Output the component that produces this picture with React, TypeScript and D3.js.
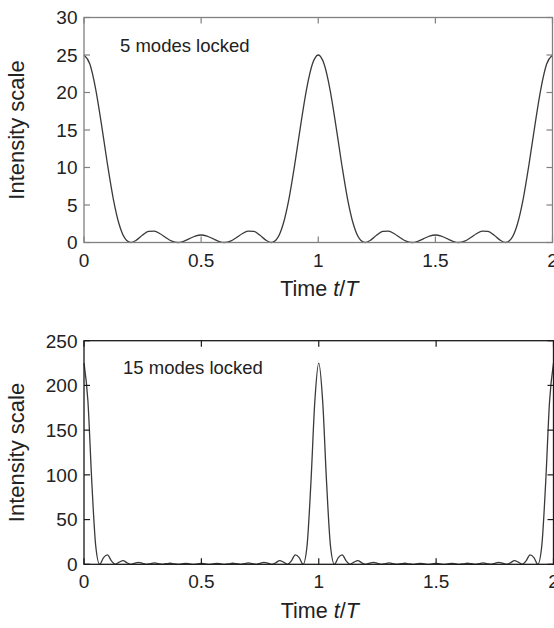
import React from "react";
import * as d3 from "d3";

// Sample step along t/T for each panel
const STEP_5 = 0.025;
const STEP_15 = 1 / 60;

// 5 modes locked: intensity (t/T from 0 to 2)
const intensity5: number[] = [
  25, 23.79, 20.43, 15.66, 10.47, 5.83, 2.43, 0.54, 0, 0.35, 1.0, 1.48, 1.53, 1.17, 0.63, 0.17, 0, 0.16, 0.51, 0.86, 1.0,
  0.86, 0.51, 0.16, 0, 0.17, 0.63, 1.17, 1.53, 1.48, 1.0, 0.35, 0, 0.54, 2.43, 5.83, 10.47, 15.66, 20.43, 23.79, 25,
  23.79, 20.43, 15.66, 10.47, 5.83, 2.43, 0.54, 0, 0.35, 1.0, 1.48, 1.53, 1.17, 0.63, 0.17, 0, 0.16, 0.51, 0.86, 1.0,
  0.86, 0.51, 0.16, 0, 0.17, 0.63, 1.17, 1.53, 1.48, 1.0, 0.35, 0, 0.54, 2.43, 5.83, 10.47, 15.66, 20.43, 23.79, 25,
];

// 15 modes locked
const intensity15: number[] = [
  225, 182.5, 91.5, 20.4, 0, 7.46, 10.47, 3.89, 0, 2.43, 4.0, 1.69, 0, 1.26, 2.23, 1.0, 0, 0.83, 1.53, 0.71, 0, 0.63, 1.2, 0.57, 0, 0.54, 1.05, 0.51, 0, 0.5, 1.0,
  0.5, 0, 0.51, 1.05, 0.54, 0, 0.57, 1.2, 0.63, 0, 0.71, 1.53, 0.83, 0, 1.0, 2.23, 1.26, 0, 1.69, 4.0, 2.43, 0, 3.89, 10.47, 7.46, 0, 20.4, 91.5, 182.5, 225,
  182.5, 91.5, 20.4, 0, 7.46, 10.47, 3.89, 0, 2.43, 4.0, 1.69, 0, 1.26, 2.23, 1.0, 0, 0.83, 1.53, 0.71, 0, 0.63, 1.2, 0.57, 0, 0.54, 1.05, 0.51, 0, 0.5, 1.0,
  0.5, 0, 0.51, 1.05, 0.54, 0, 0.57, 1.2, 0.63, 0, 0.71, 1.53, 0.83, 0, 1.0, 2.23, 1.26, 0, 1.69, 4.0, 2.43, 0, 3.89, 10.47, 7.46, 0, 20.4, 91.5, 182.5, 225,
];

const xTicks = [0, 0.5, 1, 1.5, 2];
const xTickLabels = ["0", "0.5", "1", "1.5", "2"];
const yTicks5 = [0, 5, 10, 15, 20, 25, 30];
const yTicks15 = [0, 50, 100, 150, 200, 250];

const FONT = "'Liberation Sans', Arial, Helvetica, sans-serif";

type PanelProps = {
  values: number[];
  step: number;
  yMax: number;
  yTicks: number[];
  left: number;
  right: number;
  top: number;
  bottom: number;
  label: string;
  labelX: number;
  labelY: number;
  frameColor: string;
  lineColor: string;
};

function Panel(p: PanelProps) {
  const x = d3.scaleLinear().domain([0, 2]).range([p.left, p.right]);
  const y = d3.scaleLinear().domain([0, p.yMax]).range([p.bottom, p.top]);
  const line = d3
    .line<number>()
    .x((_, i) => x(i * p.step))
    .y((d) => y(d))
    .curve(d3.curveMonotoneX);
  const tl = 6;
  return (
    <g>
      <path d={line(p.values) || ""} fill="none" stroke={p.lineColor} strokeWidth={1.3} />
      <rect
        x={p.left}
        y={p.top}
        width={p.right - p.left}
        height={p.bottom - p.top}
        fill="none"
        stroke={p.frameColor}
        strokeWidth={1.3}
      />
      {xTicks.map((t, i) => (
        <g key={"xt" + i}>
          <line x1={x(t)} x2={x(t)} y1={p.bottom} y2={p.bottom - tl} stroke={p.frameColor} strokeWidth={1.2} />
          <line x1={x(t)} x2={x(t)} y1={p.top} y2={p.top + tl} stroke={p.frameColor} strokeWidth={1.2} />
          <text x={x(t)} y={p.bottom + 24} textAnchor="middle" fontSize={19} fill="#222" fontFamily={FONT}>
            {xTickLabels[i]}
          </text>
        </g>
      ))}
      {p.yTicks.map((v, i) => (
        <g key={"yt" + i}>
          <line x1={p.left} x2={p.left + tl} y1={y(v)} y2={y(v)} stroke={p.frameColor} strokeWidth={1.2} />
          <line x1={p.right} x2={p.right - tl} y1={y(v)} y2={y(v)} stroke={p.frameColor} strokeWidth={1.2} />
          <text x={77.5} y={y(v)} dy="0.36em" textAnchor="end" fontSize={19} fill="#222" fontFamily={FONT}>
            {v}
          </text>
        </g>
      ))}
      <text x={p.labelX} y={p.labelY} fontSize={18.5} fill="#222" fontFamily={FONT}>
        {p.label}
      </text>
      <text
        transform={`translate(23.5,${(p.top + p.bottom) / 2}) rotate(-90)`}
        textAnchor="middle"
        fontSize={22}
        fill="#222"
        fontFamily={FONT}
      >
        Intensity scale
      </text>
      <text x={x(1) + 1} y={p.bottom + 53.5} textAnchor="middle" fontSize={21.5} fill="#222" fontFamily={FONT}>
        Time <tspan fontStyle="italic">t</tspan>/<tspan fontStyle="italic">T</tspan>
      </text>
    </g>
  );
}

export default function App() {
  return (
    <div style={{ position: "absolute", left: 0, top: 0, width: 554, height: 628, overflow: "hidden", background: "#fff" }}>
      <svg width={554} height={628} style={{ display: "block" }}>
        <rect width={554} height={628} fill="#fff" />
        <Panel
          values={intensity5}
          step={STEP_5}
          yMax={30}
          yTicks={yTicks5}
          left={84}
          right={552.5}
          top={17.5}
          bottom={242.5}
          label="5 modes locked"
          labelX={120}
          labelY={51.5}
          frameColor="#808080"
          lineColor="#3a3a3a"
        />
        <Panel
          values={intensity15}
          step={STEP_15}
          yMax={250}
          yTicks={yTicks15}
          left={84}
          right={553.5}
          top={340.7}
          bottom={564.3}
          label="15 modes locked"
          labelX={123}
          labelY={374}
          frameColor="#1a1a1a"
          lineColor="#3a3a3a"
        />
      </svg>
    </div>
  );
}
